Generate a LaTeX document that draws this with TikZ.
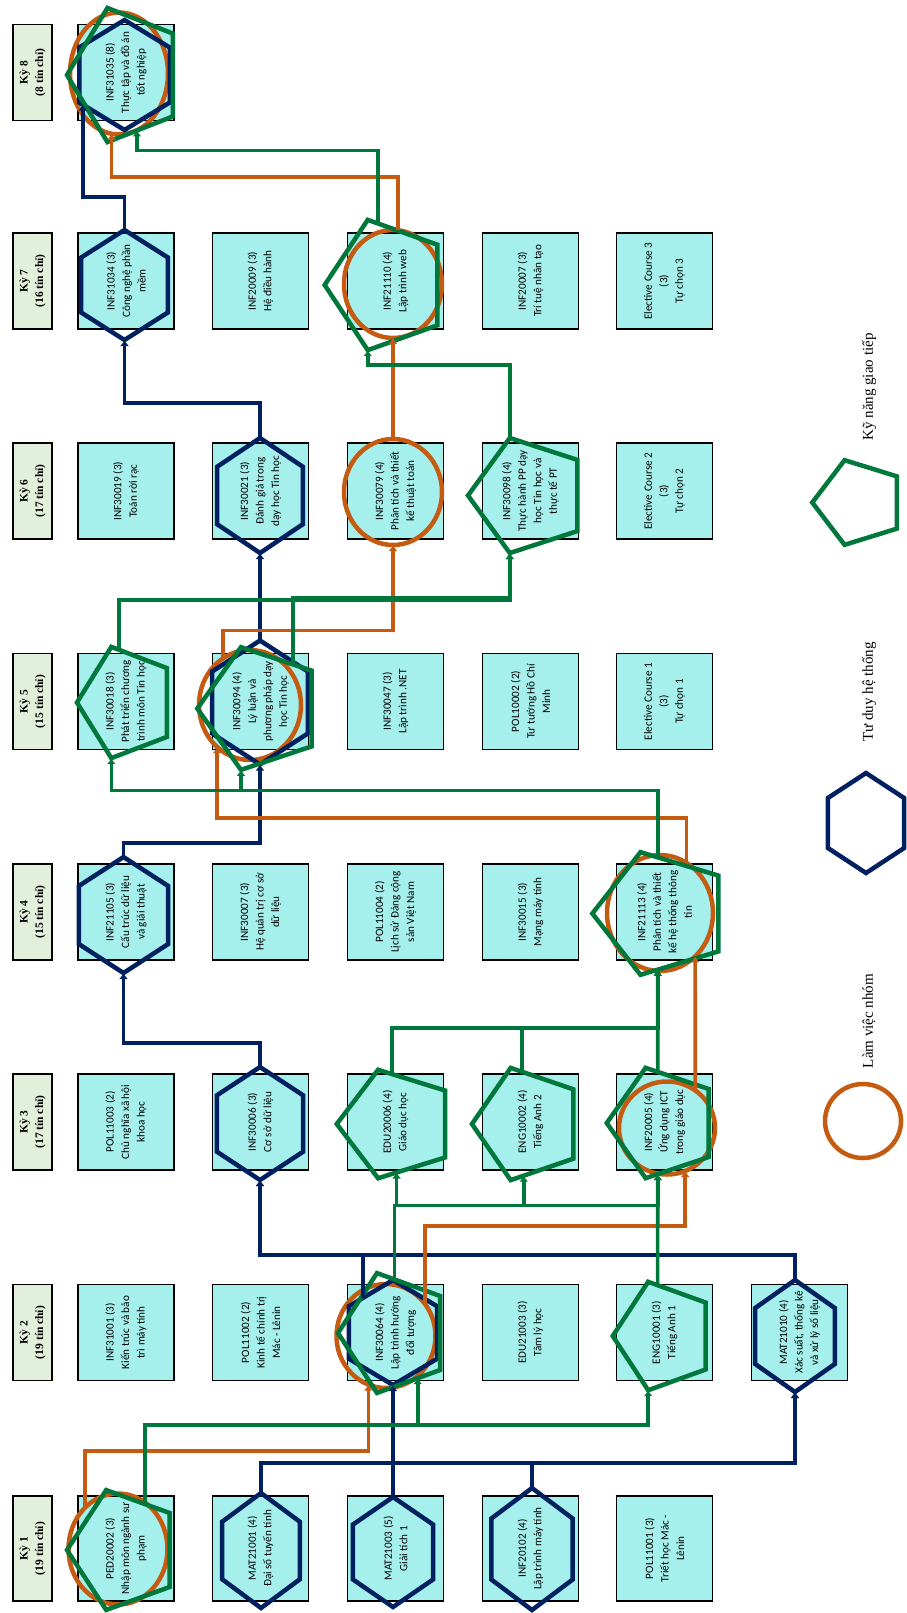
\documentclass[tikz,border=0pt]{standalone}
\usepackage{fontspec}
\setmainfont{Liberation Serif}
\setsansfont{Carlito}
\usepackage{tikz}
\usetikzlibrary{arrows.meta, shapes.geometric}
\usepackage{xcolor}
\definecolor{courseFill}{HTML}{A5EFEC}
\definecolor{termFill}{HTML}{E2EFDA}
\definecolor{sysNavy}{HTML}{002060}
\definecolor{teamOrange}{HTML}{C55A11}
\definecolor{talkGreen}{HTML}{00783C}
\tikzset{%
	course/.style={
		draw,
		line width=1.8pt,
		fill=courseFill,
		minimum width=96pt,
		minimum height=96pt,
		inner sep=0pt,
		rotate=90,
		align=center,
		font=\sffamily\fontsize{11.2}{15.5}\selectfont
	},
	term/.style={
		draw,
		line width=1.8pt,
		fill=termFill,
		minimum width=96pt,
		minimum height=39pt,
		inner sep=0pt,
		rotate=90,
		align=center,
		font=\bfseries\fontsize{11.5}{15.5}\selectfont
	},
	group work/.style 2 args={
		draw=teamOrange,
		line width=4.5pt,
		ellipse,
		minimum width=#1,
		minimum height=#2,
		inner sep=0pt,
		outer sep=0pt
	},
	system thinking/.style 2 args={
		draw=sysNavy,
		line width=4.5pt,
		regular polygon,
		regular polygon sides=6,
		regular polygon rotate=30,
		minimum size=#1,
		xscale=#2,
		transform shape,
		inner sep=0pt,
		outer sep=0pt
	},
	communication/.style 2 args={
		draw=talkGreen,
		line width=4.5pt,
		regular polygon,
		regular polygon sides=5,
		regular polygon rotate=90,
		minimum size=#1,
		xscale=#2,
		transform shape,
		inner sep=0pt,
		outer sep=0pt
	},
	key text/.style={
		rotate=90,
		font=\fontsize{15}{18}\selectfont
	},
	team link/.style={draw=teamOrange, line width=3.6pt, -{Latex[length=6pt,width=9pt]}},
	system link/.style={draw=sysNavy, line width=3.6pt, -{Latex[length=6pt,width=9pt]}},
	talk link/.style={draw=talkGreen, line width=3.6pt, -{Latex[length=6pt,width=9pt]}},
}

\begin{document}
\begin{tikzpicture}[x=1pt, y=-1pt]
	\useasboundingbox (0,0) rectangle (906,1613);

	% Semesters
	\foreach \k/\tc/\y/\h in {1/19/1548.5/105, 2/19/1332.5/96, 3/17/1122/96, 4/15/912/96,
		5/15/701.5/96, 6/17/491/96, 7/16/281/96, 8/8/72.5/96}
		\node[term, minimum width=\h pt] (term\k) at (32.5,\y) {Kỳ \k\\(\tc{} tín chỉ)};

	% Courses
	\node[course] (inf31035) at (126,72.5) {INF31035 (8)\\Thực tập và đồ án\\tốt nghiệp};

	\node[course] (inf31034) at (126,281) {INF31034 (3)\\Công nghệ phần\\mềm};
	\node[course] (inf20009) at (260.5,281) {INF20009 (3)\\Hệ điều hành};
	\node[course] (inf21110) at (395.5,281) {INF21110 (4)\\Lập trình web};
	\node[course] (inf20007) at (530.5,281) {INF20007 (3)\\Trí tuệ nhân tạo};
	\node[course] (elec3) at (664.5,281) {Elective Course 3\\(3)\\Tự chọn 3};

	\node[course] (inf30019) at (126,491) {INF30019 (3)\\Toán rời rạc};
	\node[course] (inf30021) at (260.5,491) {INF30021 (3)\\Đánh giá trong\\dạy học Tin học};
	\node[course] (inf30079) at (395.5,491) {INF30079 (4)\\Phân tích và thiết\\kế thuật toán};
	\node[course] (inf30098) at (530.5,491) {INF30098 (4)\\Thực hành PP dạy\\học Tin học và\\thực tế PT};
	\node[course] (elec2) at (664.5,491) {Elective Course 2\\(3)\\Tự chọn 2};

	\node[course] (inf30018) at (126,701.5) {INF30018 (3)\\Phát triển chương\\trình môn Tin học};
	\node[course] (inf30094) at (260.5,701.5) {INF30094 (4)\\Lý luận và\\phương pháp dạy\\học Tin học};
	\node[course] (inf30047) at (395.5,701.5) {INF30047 (3)\\Lập trình .NET};
	\node[course] (pol10002) at (530.5,701.5) {POL10002 (2)\\Tư tưởng Hồ Chí\\Minh};
	\node[course] (elec1) at (664.5,701.5) {Elective Course 1\\(3)\\Tự chọn 1};

	\node[course] (inf21105) at (126,912) {INF21105 (3)\\Cấu trúc dữ liệu\\và giải thuật};
	\node[course] (inf30007) at (260.5,912) {INF30007 (3)\\Hệ quản trị cơ sở\\dữ liệu};
	\node[course] (pol11004) at (395.5,912) {POL11004 (2)\\Lịch sử Đảng cộng\\sản Việt Nam};
	\node[course] (inf30015) at (530.5,912) {INF30015 (3)\\Mạng máy tính};
	\node[course] (inf21113) at (664.5,912) {INF21113 (4)\\Phân tích và thiết\\kế hệ thống thông\\tin};

	\node[course] (pol11003) at (126,1122) {POL11003 (2)\\Chủ nghĩa xã hội\\khoa học};
	\node[course] (inf30006) at (260.5,1122) {INF30006 (3)\\Cơ sở dữ liệu};
	\node[course] (edu20006) at (395.5,1122) {EDU20006 (4)\\Giáo dục học};
	\node[course] (eng10002) at (530.5,1122) {ENG10002 (4)\\Tiếng Anh 2};
	\node[course] (inf20005) at (664.5,1122) {INF20005 (4)\\Ứng dụng ICT\\trong giáo dục};

	\node[course] (inf31001) at (126,1332.5) {INF31001 (3)\\Kiến trúc và bảo\\trì máy tính};
	\node[course] (pol11002) at (260.5,1332.5) {POL11002 (2)\\Kinh tế chính trị\\Mác - Lênin};
	\node[course] (inf30064) at (395.5,1332.5) {INF30064 (4)\\Lập trình hướng\\đối tượng};
	\node[course] (edu21003) at (530.5,1332.5) {EDU21003 (3)\\Tâm lý học};
	\node[course] (eng10001) at (664.5,1332.5) {ENG10001 (3)\\Tiếng Anh 1};
	\node[course] (mat21010) at (799.5,1332.5) {MAT21010 (4)\\Xác suất, thống kê\\và xử lý số liệu};

	\node[course, minimum width=105pt] (ped20002) at (126,1548.5) {PED20002 (3)\\Nhập môn ngành sư\\phạm};
	\node[course, minimum width=105pt] (mat21001) at (260.5,1548.5) {MAT21001 (4)\\Đại số tuyến tính};
	\node[course, minimum width=105pt] (mat21003) at (395.5,1548.5) {MAT21003 (5)\\Giải tích 1};
	\node[course, minimum width=105pt] (inf20102) at (530.5,1548.5) {INF20102 (4)\\Lập trình máy tính};
	\node[course, minimum width=105pt] (pol11001) at (664.5,1548.5) {POL11001 (3)\\Triết học Mác -\\Lênin};

	% Làm việc nhóm
	\node[group work={98pt}{122pt}] (cir31035) at (119,73.5) {};
	\node[group work={98pt}{108pt}] (cir21110) at (393,284) {};
	\node[group work={98pt}{106pt}] (cir30079) at (393,492) {};
	\node[group work={102pt}{110pt}] (cir30094) at (250,705) {};
	\node[group work={106pt}{116pt}] (cir21113) at (660,913) {};
	\node[group work={96pt}{93pt}] (cir20005) at (667,1128) {};
	\node[group work={99pt}{104pt}] (cir30064) at (386,1336) {};
	\node[group work={99pt}{111pt}] (cir20002) at (118,1549) {};

	% Tư duy hệ thống
	\node[system thinking={110pt}{0.95}] (hex31035) at (124.5,75) {};
	\node[system thinking={110pt}{0.91}] (hex31034) at (124.5,285) {};
	\node[system thinking={115pt}{0.86}] (hex30021) at (260,495.5) {};
	\node[system thinking={124pt}{0.89}] (hex30094) at (260,702.5) {};
	\node[system thinking={116pt}{0.89}] (hex21105) at (123.5,915) {};
	\node[system thinking={113pt}{0.88}] (hex30006) at (260,1123.5) {};
	\node[system thinking={105pt}{0.97}] (hex30064) at (393,1332.5) {};
	\node[system thinking={112pt}{0.82}] (hex21010) at (795,1336) {};
	\node[system thinking={115pt}{0.78}] (hex21001) at (261,1550.5) {};
	\node[system thinking={110pt}{0.84}] (hex21003) at (393,1552) {};
	\node[system thinking={122pt}{0.77}] (hex20102) at (532,1549) {};

	% Kỹ năng giao tiếp
	\node[communication={141pt}{0.83}] (pen31035) at (125.5,75) {};
	\node[communication={137pt}{0.91}] (pen21110) at (387,285) {};
	\node[communication={121pt}{1.00}] (pen30098) at (528.5,495.5) {};
	\node[communication={117pt}{0.85}] (pen30018) at (126.7,702.5) {};
	\node[communication={129pt}{0.98}] (pen30094) at (260.5,708.5) {};
	\node[communication={129pt}{1.08}] (pen21113) at (662,913.5) {};
	\node[communication={114pt}{1.05}] (pen20006) at (396.6,1124) {};
	\node[communication={118pt}{0.95}] (pen10002) at (528,1124) {};
	\node[communication={116pt}{0.97}] (pen20005) at (663,1123) {};
	\node[communication={126pt}{0.895}] (pen30064) at (394.4,1333) {};
	\node[communication={114pt}{0.90}] (pen10001) at (664,1336) {};
	\node[communication={126pt}{0.90}] (pen20002) at (123.7,1550) {};

	% Legend
	\node[communication={89pt}{1.05}] (penKey) at (859,502.5) {};
	\node[key text] (talkKey) at (869,387) {Kỹ năng giao tiếp};
	\node[system thinking={100pt}{0.88}] (hexKey) at (866,823) {};
	\node[key text] (sysKey) at (869,692) {Tư duy hệ thống};
	\node[group work={76pt}{74pt}] (cirKey) at (863,1121) {};
	\node[key text] (teamKey) at (869,1021) {Làm việc nhóm};

	% Links
	\draw[system link] (hex31034.north) -- ++(0,-33) -| (hex31035.214);
	\draw[system link] (hex30021.north) -- ++(0,-35) -| (hex31034.south);
	\draw[system link] (hex30094.north) -- (hex30021.south);
	\draw[system link] (hex21105.north) -- ++(0,-14) -| (hex30094.south);
	\draw[system link] (hex30006.north) -- ++(0,-24) -| (hex21105.south);
	\draw[system link] (hex30064.132) -- ++(0,-43) -| (hex30006.south);
	\draw[system link] (hex21010.north) -- ++(0,-25) -| (hex30006.south);
	\draw[system link] (hex21001.north) -- ++(0,-30) -| (hex21010.south);
	\draw[system link] (hex20102.north) -- ++(0,-25) -| (hex21010.south);
	\draw[system link] (hex21003.north) -- (hex30064.south);

	\draw[team link] (cir21110.85) -- ++(0,-53) -| (cir31035.263);
	\draw[team link] (cir30079.north) -- (cir21110.south);
	\draw[team link] (cir30094.120) -- ++(0,-28) -| (cir30079.south);
	\draw[team link] (cir21113.62) -- ++(0,-45) -| (cir30094.232);
	\draw[team link] (cir20005.53) -- (cir21113.309);
	\draw[team link] (cir30064.39) -- ++(0,-78) -| (cir20005.293);
	\draw[team link] (cir20002.129) -- ++(0,-57) -| (cir30064.250);

	\draw[talk link] (pen21110.99) -- ++(0,-73) -| (pen31035.284);
	\draw[talk link] (pen30098.108) -- ++(0,-73) -| (pen21110.252);
	\draw[talk link] (pen30018.100) -- ++(0,-50) -| (pen30098.252);
	\draw[talk link] (pen30094.53) -- ++(0,-67) -| (pen30098.252);
	\draw[talk link] (pen21113.94) -- ++(0,-67) -| (pen30018.252);
	\draw[talk link] (pen21113.94) -- ++(0,-67) -| (pen30094.252);
	\draw[talk link] (pen20005.96) -- (pen21113.266);
	\draw[talk link] (pen20006.95) -- ++(0,-46) -| (pen21113.266);
	\draw[talk link] (pen10002.97) -- ++(0,-44) -| (pen21113.266);
	\draw[talk link] (pen30064.north) -- ++(0,-74) -| (pen20006.south);
	\draw[talk link] (pen30064.north) -- ++(0,-74) -| (pen10002.265);
	\draw[talk link] (pen30064.north) -- ++(0,-74) -| (pen20005.264);
	\draw[talk link] (pen10001.98) -- (pen20005.264);
	\draw[talk link] (pen20002.63) -- ++(0,-79) -| (pen30064.300);
	\draw[talk link] (pen20002.63) -- ++(0,-79) -| (pen10001.252);
\end{tikzpicture}
\end{document}
